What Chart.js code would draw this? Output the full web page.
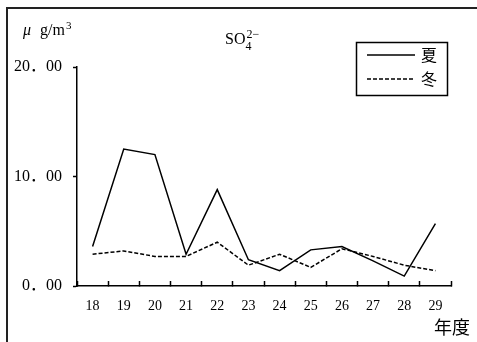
<!DOCTYPE html>
<html>
<head>
<meta charset="utf-8">
<script src="https://cdn.jsdelivr.net/npm/chart.js@4"></script>
<style>
  html, body { margin: 0; padding: 0; background: #fff; }
  #wrap { width: 477px; height: 342px; }
</style>
</head>
<body>
<div id="wrap"><canvas id="so4Chart" width="477" height="342"></canvas></div>
<script>
// data
const years = ['18', '19', '20', '21', '22', '23', '24', '25', '26', '27', '28', '29'];
const summerValues = [3.6, 12.5, 12.0, 2.9, 8.8, 2.4, 1.4, 3.3, 3.6, 2.3, 0.9, 5.7];
const winterValues = [2.9, 3.2, 2.7, 2.7, 4.0, 1.9, 2.9, 1.7, 3.4, 2.7, 1.9, 1.4];
const seriesNames = ['夏', '冬'];
const yTicks = [0, 10, 20];

const serifFont = "'Liberation Serif', 'Noto Sans CJK JP', serif";
const cjkFont = "'Noto Sans CJK JP', sans-serif";

// frame, title, unit, axis name and boxed legend
const decorPlugin = {
  id: 'decor',
  afterDraw(chart) {
    const ctx = chart.ctx;
    ctx.save();
    // frame (top + left edge of the cropped picture)
    ctx.strokeStyle = '#222';
    ctx.lineWidth = 2;
    ctx.beginPath();
    ctx.moveTo(7, 342);
    ctx.lineTo(7, 8);
    ctx.lineTo(477, 8);
    ctx.stroke();

    ctx.fillStyle = '#000';
    ctx.textBaseline = 'alphabetic';
    ctx.textAlign = 'left';

    // title SO4 2-
    ctx.font = '16px ' + serifFont;
    ctx.fillText('SO', 225, 44);
    let w = ctx.measureText('SO').width;
    ctx.font = '12px ' + serifFont;
    ctx.fillText('4', 225 + w, 50);
    ctx.fillText('2−', 225 + w + 1, 38);

    // unit
    ctx.font = 'italic 16px ' + serifFont;
    ctx.fillText('μ', 23, 35);
    ctx.font = '16px ' + serifFont;
    ctx.fillText('g/m', 40, 35);
    w = ctx.measureText('g/m').width;
    ctx.font = '11px ' + serifFont;
    ctx.fillText('3', 40 + w + 1, 29);

    // x axis name
    ctx.font = '18px ' + cjkFont;
    ctx.textBaseline = 'middle';
    ctx.fillText('年度', 434, 327);

    // legend box
    ctx.lineWidth = 1.5;
    ctx.strokeStyle = '#000';
    ctx.strokeRect(356.5, 42.5, 91, 53);
    const rows = [55, 79];
    chart.data.datasets.forEach((ds, i) => {
      ctx.beginPath();
      ctx.setLineDash(ds.borderDash || []);
      ctx.lineWidth = ds.borderWidth;
      ctx.moveTo(367, rows[i]);
      ctx.lineTo(415, rows[i]);
      ctx.stroke();
      ctx.setLineDash([]);
      ctx.font = '16px ' + cjkFont;
      ctx.fillText(ds.label, 421, rows[i]);
    });
    ctx.restore();
  }
};

new Chart(document.getElementById('so4Chart'), {
  type: 'line',
  data: {
    labels: years,
    datasets: [
      {
        label: seriesNames[0],
        data: summerValues,
        borderColor: '#000',
        borderWidth: 1.5,
        pointRadius: 0,
        tension: 0,
        fill: false
      },
      {
        label: seriesNames[1],
        data: winterValues,
        borderColor: '#000',
        borderWidth: 1.5,
        borderDash: [4, 2],
        pointRadius: 0,
        tension: 0,
        fill: false
      }
    ]
  },
  options: {
    responsive: false,
    animation: false,
    layout: { padding: { left: 7, right: 26, top: 67, bottom: 0 } },
    plugins: {
      legend: { display: false },
      title: { display: false },
      tooltip: { enabled: false }
    },
    scales: {
      x: {
        offset: true,
        grid: {
          offset: true,
          drawOnChartArea: false,
          tickLength: -5,
          tickColor: '#000',
          tickWidth: 1.5
        },
        border: { display: true, color: '#000', width: 1.5 },
        ticks: {
          color: '#000',
          padding: 17,
          maxRotation: 0,
          font: { family: serifFont, size: 14 }
        },
        afterFit(scale) { scale.height = 56; }
      },
      y: {
        min: yTicks[0],
        max: yTicks[yTicks.length - 1],
        afterBuildTicks(scale) { scale.ticks = yTicks.map(v => ({ value: v })); },
        grid: {
          drawOnChartArea: false,
          tickLength: 4,
          tickColor: '#000',
          tickWidth: 1.5
        },
        border: { display: true, color: '#000', width: 1.5 },
        ticks: {
          color: '#000',
          padding: 11,
          font: { family: serifFont, size: 16 },
          callback: v => v + '．00'
        },
        afterFit(scale) { scale.width = 70; }
      }
    }
  },
  plugins: [decorPlugin]
});
</script>
</body>
</html>
